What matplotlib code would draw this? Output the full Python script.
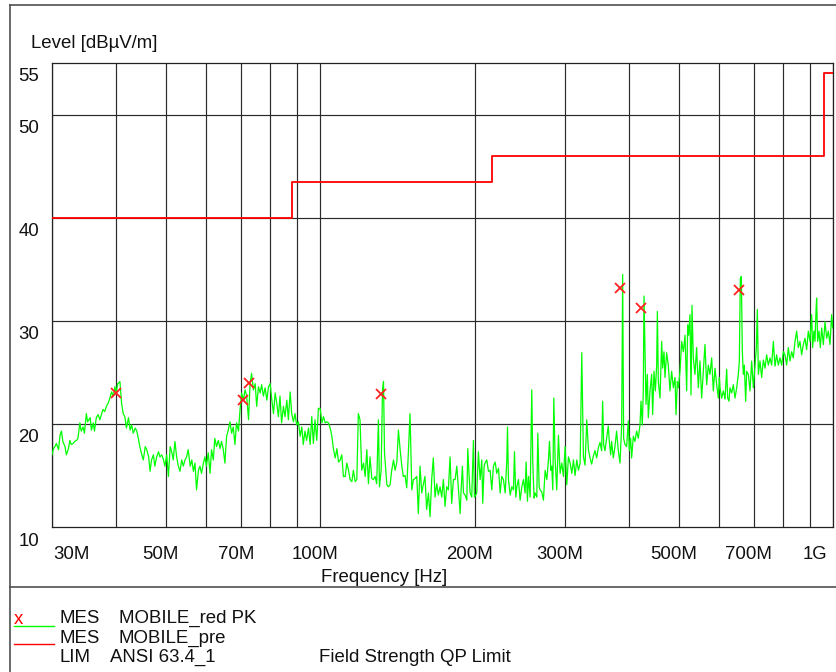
import matplotlib
matplotlib.use("Agg")
import matplotlib.pyplot as plt
import matplotlib.transforms as mtransforms
from matplotlib.lines import Line2D
import numpy as np

plt.rcParams['font.family'] = ['Liberation Sans', 'DejaVu Sans']
FS = 13.4

# ---- measured trace (frequency in MHz, level in dBuV/m) ----
freq_a = [30.0, 30.2, 30.4, 30.6, 30.9, 31.1, 31.3, 31.5, 31.8, 32.0, 32.3, 32.5, 32.7, 33.0, 33.2, 33.5,
          33.7, 34.0, 34.2, 34.5, 34.7, 35.0, 35.2, 35.6, 35.8, 36.1, 36.3, 36.6, 36.9, 37.2, 37.5, 37.7,
          38.0, 38.3, 38.6, 38.9, 39.2, 39.5, 39.8, 40.0, 40.3, 40.7, 41.0, 41.3, 41.6, 41.9, 42.3, 42.6,
          42.9, 43.2, 43.6, 43.9, 44.2, 44.5, 44.9, 45.2, 45.6, 45.9, 46.3, 46.6, 46.9, 47.3, 47.6, 48.0,
          48.4, 48.7, 49.1, 49.5, 49.8, 50.2, 50.6, 51.0, 51.4, 51.7, 52.1, 52.5, 52.9, 53.3, 53.7, 54.1]
level_a = [17.0, 17.6, 17.8, 18.1, 17.5, 18.9, 19.3, 18.3, 17.8, 17.0, 17.6, 18.4, 18.0, 18.1, 18.3, 18.4,
           18.6, 20.1, 19.3, 19.7, 19.1, 21.0, 20.2, 20.6, 19.4, 20.1, 19.3, 20.6, 20.9, 20.4, 21.0, 21.4,
           21.2, 21.7, 22.0, 22.5, 23.1, 22.7, 23.6, 23.0, 23.9, 24.1, 22.0, 21.0, 20.7, 19.6, 20.6, 19.4,
           19.9, 19.1, 19.6, 19.3, 18.6, 17.8, 17.0, 16.5, 17.8, 17.5, 16.8, 15.4, 16.5, 17.0, 15.9, 16.8,
           17.3, 16.8, 17.0, 16.5, 15.9, 17.0, 14.9, 17.8, 17.2, 16.5, 18.3, 16.8, 15.9, 15.4, 16.5, 15.9]

freq_b = [54.5, 54.9, 55.3, 55.8, 56.2, 56.6, 57.0, 57.4, 57.9, 58.3, 58.7, 59.2, 59.6, 60.0, 60.5, 61.0,
          61.4, 61.9, 62.3, 62.8, 63.3, 63.8, 64.2, 64.7, 65.2, 65.7, 66.2, 66.7, 67.2, 67.7, 68.2, 68.7,
          69.3, 69.8, 70.3, 70.8, 71.4, 71.9, 72.5, 73.0, 73.5, 74.1, 74.7, 75.2, 75.8, 76.4, 76.9, 77.5,
          78.1, 78.7, 79.3, 79.9, 80.5, 81.1, 81.7, 82.3, 82.9, 83.5, 84.1, 84.8, 85.4, 86.1, 86.7, 87.4,
          88.0, 88.7, 89.3, 90.0, 90.7, 91.4, 92.1, 92.7, 93.4, 94.1, 94.9, 95.6, 96.3, 97.0, 97.7, 98.5,
          99.2]
level_b = [16.5, 16.8, 17.5, 15.9, 16.5, 15.4, 16.2, 13.6, 15.5, 15.9, 15.2, 16.2, 16.8, 15.9, 17.2, 15.2,
           17.5, 16.5, 18.6, 17.8, 18.4, 17.6, 18.3, 17.6, 16.2, 18.8, 19.4, 20.2, 19.1, 19.7, 18.0, 20.1,
           19.3, 21.4, 23.0, 22.3, 23.3, 22.7, 20.4, 23.9, 24.9, 23.3, 23.9, 21.7, 23.6, 23.0, 23.8, 22.7,
           23.5, 22.3, 23.6, 23.9, 22.3, 21.0, 23.0, 22.0, 20.7, 22.7, 20.1, 21.7, 20.7, 22.3, 20.4, 23.1,
           21.0, 20.2, 21.0, 19.9, 20.2, 18.8, 19.7, 18.0, 19.3, 18.4, 19.6, 18.0, 20.7, 18.1, 20.4, 18.4,
           21.5]

freq_c = [100.0, 100.8, 101.5, 102.3, 103.0, 103.8, 104.6, 105.4, 106.2, 107.0, 107.8, 108.6, 109.4, 110.2,
          111.0, 111.9, 112.7, 113.6, 114.4, 115.3, 116.1, 117.0, 117.9, 118.7, 119.6, 120.5, 121.5, 122.4,
          123.3, 124.2, 125.1, 126.1, 127.0, 128.0, 128.9, 129.9, 130.5, 131.5, 132.3, 132.9, 133.5, 134.3,
          134.9, 135.9, 136.9, 137.9, 139.0, 140.0, 141.1, 142.1, 143.2, 144.3, 145.3, 146.4, 147.5, 148.6,
          149.7, 150.9, 152.0, 153.1, 154.3, 155.4, 156.6, 157.8, 159.0, 160.1, 161.3, 162.6, 163.8, 165.0,
          166.2, 167.5, 168.8, 170.0, 171.3, 172.6, 173.9, 175.2, 176.5, 177.8, 179.2, 180.5, 181.9]
level_c = [21.5, 20.1, 20.7, 20.1, 20.2, 20.1, 19.6, 18.8, 17.5, 16.7, 17.6, 16.3, 16.5, 17.0,
           14.9, 14.9, 16.2, 15.5, 14.6, 14.4, 15.5, 14.4, 14.6, 21.0, 20.4, 15.5, 16.2, 14.9,
           17.5, 14.2, 16.8, 14.7, 14.6, 14.9, 14.2, 20.4, 13.9, 15.5, 23.3, 24.1, 17.2, 15.5,
           14.1, 13.9, 14.1, 15.5, 16.5, 15.5, 16.3, 19.4, 17.5, 15.9, 14.9, 15.0, 13.8, 17.2,
           21.0, 13.6, 14.6, 14.7, 14.9, 11.3, 15.9, 13.3, 14.2, 14.9, 11.7, 13.3, 11.0, 14.6,
           16.7, 12.9, 14.2, 13.1, 13.9, 12.9, 14.6, 12.0, 13.9, 13.6, 16.8, 12.3, 14.6]

freq_d = [183.3, 184.7, 186.1, 187.5, 188.3, 189.4, 190.3, 191.7, 193.2, 194.0, 195.2, 196.1, 197.5, 199.0,
          199.9, 201.1, 202.0, 203.5, 205.1, 206.6, 207.5, 208.8, 209.7, 211.3, 212.9, 214.5, 216.1, 217.7,
          219.4, 221.0, 222.7, 224.4, 226.0, 227.7, 229.5, 231.2, 231.9, 232.9, 234.7, 236.4, 238.2, 239.3,
          240.7, 241.8, 243.6, 245.4, 247.3, 249.1, 251.0, 252.1, 253.6, 254.8, 256.7, 258.6, 259.8, 261.3,
          262.5, 264.5, 265.7, 267.3, 268.5, 270.5, 272.5, 274.6, 276.7, 278.7, 280.0, 281.7, 282.9, 284.2,
          285.5, 287.2, 289.3, 291.5, 293.7, 295.9, 298.1, 300.4, 302.6, 304.9, 307.2, 309.5, 311.8, 314.1,
          316.5, 318.9, 321.3, 323.7, 326.1, 328.5, 331.0, 333.5]
level_d = [14.6, 15.9, 13.6, 11.3, 13.6, 15.9, 13.3, 13.1, 12.6, 17.6, 14.9, 13.3, 12.9, 18.4,
           12.9, 13.1, 13.3, 17.3, 14.6, 16.5, 12.3, 15.9, 16.2, 16.5, 15.4, 15.5, 13.6, 15.9,
           16.3, 15.2, 15.7, 13.3, 14.9, 14.6, 13.3, 16.5, 19.7, 14.6, 13.1, 13.9, 13.6, 17.3,
           12.9, 13.9, 14.6, 12.6, 13.9, 14.6, 13.3, 16.3, 12.5, 14.9, 12.9, 23.3, 16.2, 12.8,
           13.3, 12.9, 19.1, 13.9, 13.6, 13.4, 12.6, 15.5, 14.6, 16.5, 18.3, 15.5, 15.9, 13.6,
           22.5, 16.5, 13.6, 18.9, 15.2, 16.2, 14.9, 17.8, 14.1, 16.8, 16.2, 15.2, 16.5, 15.0,
           16.5, 15.5, 16.2, 26.9, 16.8, 16.0, 20.4, 17.5]

freq_e = [335.9, 338.4, 341.0, 343.5, 346.1, 348.7, 351.3, 353.9, 355.5, 357.1, 359.2, 361.9, 364.6, 366.3,
          368.5, 370.1, 372.9, 375.7, 378.5, 381.4, 384.3, 387.2, 388.9, 390.6, 393.0, 395.9, 398.9, 400.7,
          403.1, 404.9, 408.0, 411.0, 414.1, 417.2, 420.4, 422.3, 424.8, 426.7, 428.0, 429.9, 431.9, 434.5,
          436.4, 439.7, 443.0, 445.0, 447.7, 450.4, 453.1, 454.5, 456.5, 459.9, 463.4, 465.4, 468.2, 470.3,
          473.8, 477.4, 481.0, 484.6, 488.3, 492.0, 494.2, 497.2, 499.4, 503.1, 506.9, 510.7, 514.6, 518.4,
          520.8, 523.1, 526.2, 528.6, 531.0, 534.1, 538.1, 542.1, 546.2, 550.3, 554.5, 558.6, 562.8, 567.1,
          571.3, 575.6, 580.0, 584.3, 588.7, 593.2, 597.6, 600.3]
level_e = [16.7, 16.1, 16.9, 17.4, 16.7, 17.7, 18.2, 17.4, 22.2, 18.0, 17.4, 18.6, 19.8, 18.3,
           17.0, 18.3, 16.7, 17.8, 19.3, 17.4, 16.2, 19.9, 34.5, 18.6, 18.0, 17.8, 20.3, 17.4,
           18.6, 16.7, 18.8, 18.3, 19.3, 18.6, 19.9, 22.2, 19.9, 23.2, 32.4, 27.4, 21.9, 24.8,
           20.6, 23.2, 24.8, 20.9, 25.1, 23.2, 25.7, 30.9, 24.1, 22.5, 28.0, 25.4, 27.0, 24.5,
           26.9, 25.7, 23.2, 25.1, 23.5, 24.5, 20.9, 24.1, 23.5, 25.1, 28.0, 27.0, 28.6, 23.2,
           29.6, 28.6, 30.6, 22.8, 31.5, 26.4, 24.8, 27.4, 23.5, 26.1, 22.5, 25.1, 27.7, 23.8,
           25.7, 24.8, 26.4, 23.2, 25.4, 23.8, 22.5, 24.5]

freq_f = [602.1, 606.6, 611.2, 615.8, 620.4, 623.2, 627.0, 629.7, 634.4, 639.2, 644.0, 648.9, 653.7, 656.7,
          659.6, 662.6, 665.6, 668.6, 671.6, 675.6, 678.7, 683.8, 688.9, 694.1, 699.3, 704.6, 708.8, 712.0,
          715.2, 720.5, 725.9, 731.4, 736.9, 742.4, 748.0, 753.6, 759.3, 765.0, 770.7, 776.5, 782.3, 788.2,
          794.1, 800.1, 806.1, 812.1, 818.2, 824.4, 830.6, 836.8, 843.1, 849.4, 855.8, 862.2, 868.7, 875.2,
          881.8, 888.4, 895.1, 901.8, 908.6, 912.7, 918.1, 922.3, 926.4, 929.2, 933.4, 939.0, 944.7, 950.4,
          957.6, 964.8, 972.0, 979.3, 986.6, 994.0, 998.5]
level_f = [23.5, 22.5, 23.2, 22.4, 25.3, 22.5, 22.2, 23.5, 23.0, 23.8, 22.5, 23.5, 24.8, 26.1,
           34.1, 34.3, 27.0, 24.8, 25.7, 22.2, 25.1, 24.8, 23.2, 26.1, 23.5, 25.7, 27.4, 31.1,
           24.8, 26.1, 24.5, 26.2, 25.4, 26.7, 25.7, 26.4, 25.7, 28.0, 25.6, 26.7, 25.7, 26.4,
           25.7, 27.0, 26.7, 25.7, 27.4, 26.1, 27.0, 26.4, 28.0, 29.0, 27.4, 28.0, 26.7, 27.7,
           28.3, 27.2, 29.0, 28.0, 30.6, 27.4, 29.0, 28.0, 30.9, 32.2, 28.0, 29.0, 27.4, 29.3,
           27.7, 29.9, 28.3, 29.0, 27.7, 30.6, 29.3]

# ---- peak markers ----
peak_freq = [39.9, 70.6, 72.8, 131.2, 384.3, 422.3, 655.0]
peak_level = [23.0, 22.3, 24.0, 22.9, 33.2, 31.2, 33.0]

# ---- ANSI C63.4 limit (step edges) ----
limit_freq = [30, 88, 216, 960, 1000]
limit_level = [40.0, 43.5, 46.0, 54.0, 54.0]

# ---- axis annotation ----
grid_freq = [30, 40, 50, 60, 70, 80, 90, 100, 200, 300, 400, 500, 600, 700, 800, 900, 1000]
xtick_freq = [30, 50, 70, 100, 200, 300, 500, 700, 1000]
xtick_text = ["30M", "50M", "70M", "100M", "200M", "300M", "500M", "700M", "1G"]
ytick_vals = [10, 20, 30, 40, 50, 55]

W, H = 837, 672
fig = plt.figure(figsize=(W / 100, H / 100), dpi=100)
ax = fig.add_axes([52 / W, 1 - 527 / H, 781 / W, 464 / H])

MHz = 1e6
trace_f = np.array(freq_a + freq_b + freq_c + freq_d + freq_e + freq_f) * MHz
trace_l = np.array(level_a + level_b + level_c + level_d + level_e + level_f)

ax.set_xscale('log')
ax.set_xlim(30 * MHz, 1000 * MHz)
ax.set_ylim(10, 55)

ax.set_xticks(np.array(grid_freq) * MHz)
ax.xaxis.set_minor_locator(matplotlib.ticker.NullLocator())
ax.set_yticks([20, 30, 40, 50])
ax.set_xticklabels([])
ax.set_yticklabels([])
ax.tick_params(length=0)
ax.grid(True, color='#2a2a2a', lw=0.85)
for s in ax.spines.values():
    s.set_color('#222222')
    s.set_linewidth(0.9)

ax.step(np.array(limit_freq) * MHz, limit_level, where='post', color='#ff0000', lw=1.3, zorder=3)
ax.plot(trace_f, trace_l, color='#00ff00', lw=0.9, zorder=4)
ax.plot(np.array(peak_freq) * MHz, peak_level, ls='none', marker='x', ms=7, mew=1.3,
        color='#ff2020', zorder=5)

# tick labels
def off(dx, dy):
    return mtransforms.ScaledTranslation(dx / 100, dy / 100, fig.dpi_scale_trans)

bx = mtransforms.blended_transform_factory(ax.transData, ax.transAxes)
for f, t in zip(xtick_freq, xtick_text):
    if t == "30M":
        ha, dx = 'left', 1
    elif t == "1G":
        ha, dx = 'right', -6
    else:
        ha, dx = 'center', -5
    ax.text(f * MHz, 0, t, transform=bx + off(dx, -32), ha=ha, va='baseline', fontsize=FS,
            color='#111111')

by = mtransforms.blended_transform_factory(ax.transAxes, ax.transData)
for v in ytick_vals:
    ax.text(0, v, str(v), transform=by + off(-13, -18.5), ha='right', va='baseline', fontsize=FS,
            color='#111111')

def fx(x):
    return x / W

def fy(y):
    return 1 - y / H

fig.text(fx(31), fy(47.5), "Level [dBµV/m]", fontsize=FS, va='baseline', ha='left', color='#111111')
fig.text(fx(321), fy(582.5), "Frequency [Hz]", fontsize=FS, va='baseline', ha='left', color='#111111')

# page frame
frame_kw = dict(color='#505050', lw=1.2, transform=fig.transFigure)
fig.add_artist(Line2D([fx(9.5), fx(9.5)], [fy(4.5), fy(672)], **frame_kw))
fig.add_artist(Line2D([fx(9.5), fx(837)], [fy(4.5), fy(4.5)], **frame_kw))
fig.add_artist(Line2D([fx(9.5), fx(837)], [fy(587), fy(587)], **frame_kw))

# legend block
fig.text(fx(14), fy(624), "x", color='#ff0000', fontsize=FS, va='baseline', ha='left')
fig.add_artist(Line2D([fx(14), fx(54)], [fy(625.7), fy(625.7)], color='#00ff00', lw=1.0,
                      transform=fig.transFigure))
fig.add_artist(Line2D([fx(14), fx(54)], [fy(644.3), fy(644.3)], color='#ff0000', lw=1.0,
                      transform=fig.transFigure))
rows = [(623.3, "MES", "MOBILE_red PK", 119), (643.0, "MES", "MOBILE_pre", 119),
        (662.3, "LIM", "ANSI 63.4_1", 110)]
for yb, a, b, bxp in rows:
    fig.text(fx(60), fy(yb), a, fontsize=FS, va='baseline', ha='left', color='#111111')
    fig.text(fx(bxp), fy(yb), b, fontsize=FS, va='baseline', ha='left', color='#111111')
fig.text(fx(319), fy(662.3), "Field Strength QP Limit", fontsize=FS, va='baseline', ha='left',
         color='#111111')

fig.savefig('out.png', dpi=100)
